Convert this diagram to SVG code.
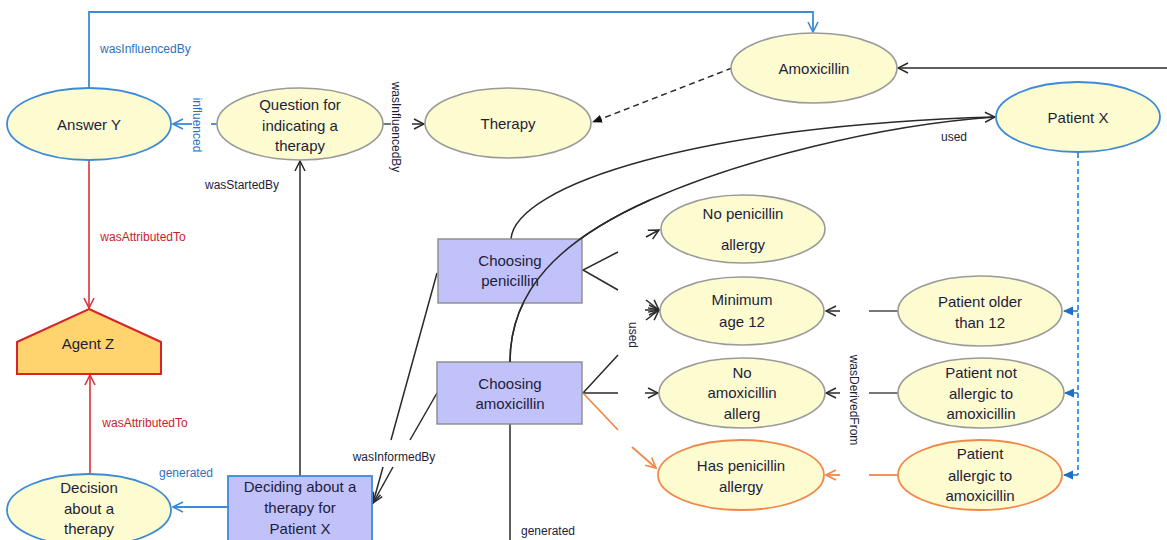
<svg xmlns="http://www.w3.org/2000/svg" width="1167" height="540" viewBox="0 0 1167 540">
  <style>
    text { font-family: "Liberation Sans", Arial, sans-serif; fill: #1d1d3b; }
    .node { font-size: 15px; text-anchor: middle; dominant-baseline: central; }
    .lbl { font-size: 12px; dominant-baseline: central; }
    .ent { fill: #fdfbd0; stroke: #9a9a9a; stroke-width: 1.6; }
    .ent-blue { fill: #fdfbd0; stroke: #3d8ad6; stroke-width: 1.8; }
    .ent-orange { fill: #fdfbd0; stroke: #f0884a; stroke-width: 1.8; }
    .act { fill: #c2c2fa; stroke: #8a8a8a; stroke-width: 1.4; }
    .act-blue { fill: #c2c2fa; stroke: #3d8ad6; stroke-width: 1.8; }
    .agent { fill: #ffd36e; stroke: #d8232a; stroke-width: 2; }
    .k { fill: none; stroke: #2a2a2a; stroke-width: 1.5; }
    .g { fill: none; stroke: #777; stroke-width: 2; }
    .b { fill: none; stroke: #3d8ad6; stroke-width: 1.8; }
    .r { fill: none; stroke: #d8323a; stroke-width: 1.6; }
    .o { fill: none; stroke: #f0884a; stroke-width: 1.8; }
    .blue-t { fill: #2a72c4; }
    .red-t { fill: #c81e2a; }
  </style>
  <defs>
    <marker id="open-k" viewBox="0 0 12 12" refX="11" refY="6" markerWidth="12" markerHeight="12" orient="auto" markerUnits="userSpaceOnUse">
      <path d="M1,1 L11,6 L1,11" fill="none" stroke="#2a2a2a" stroke-width="1.5"/>
    </marker>
    <marker id="open-b" viewBox="0 0 12 12" refX="11" refY="6" markerWidth="12" markerHeight="12" orient="auto" markerUnits="userSpaceOnUse">
      <path d="M1,1 L11,6 L1,11" fill="none" stroke="#3d8ad6" stroke-width="1.6"/>
    </marker>
    <marker id="open-r" viewBox="0 0 12 12" refX="11" refY="6" markerWidth="12" markerHeight="12" orient="auto" markerUnits="userSpaceOnUse">
      <path d="M1,1 L11,6 L1,11" fill="none" stroke="#d8323a" stroke-width="1.6"/>
    </marker>
    <marker id="open-o" viewBox="0 0 12 12" refX="11" refY="6" markerWidth="12" markerHeight="12" orient="auto" markerUnits="userSpaceOnUse">
      <path d="M1,1 L11,6 L1,11" fill="none" stroke="#f0884a" stroke-width="1.6"/>
    </marker>
    <marker id="solid-k" viewBox="0 0 10 10" refX="9" refY="5" markerWidth="10" markerHeight="10" orient="auto" markerUnits="userSpaceOnUse">
      <path d="M0,1 L10,5 L0,9 Z" fill="#111"/>
    </marker>
    <marker id="solid-b" viewBox="0 0 10 10" refX="9" refY="5" markerWidth="10" markerHeight="10" orient="auto" markerUnits="userSpaceOnUse">
      <path d="M0,0.5 L10,5 L0,9.5 Z" fill="#1f6fc5"/>
    </marker>
  </defs>

  <rect width="1167" height="540" fill="#ffffff"/>

  <!-- connectors -->
  <g id="connectors">
    <!-- Answer Y wasInfluencedBy Amoxicillin -->
    <path class="b" d="M89,88 V12 H813 V32" marker-end="url(#open-b)"/>
    <!-- Question influenced Answer Y -->
    <path class="b" d="M192,124 H173" marker-end="url(#open-b)"/>
    <path class="b" d="M211,124 H217"/>
    <!-- Question wasInfluencedBy Therapy -->
    <path class="g" d="M383,124 H391"/>
    <path class="k" d="M412,124 H424" marker-end="url(#open-k)"/>
    <!-- Amoxicillin to Therapy (dashed) -->
    <path class="k" d="M732,68 L593,122" stroke-dasharray="6,4" marker-end="url(#solid-k)"/>
    <!-- incoming to Amoxicillin from the right -->
    <path class="k" d="M1167,68 H898" marker-end="url(#open-k)"/>
    <!-- used: Choosing activities to Patient X -->
    <path class="k" d="M511,239 C515,185 700,125 995,117" marker-end="url(#open-k)"/>
    <path class="k" d="M510,362 C510,290 560,240 650,200 S880,125 995,117"/>
    <!-- wasAttributedTo -->
    <path class="r" d="M89,160 V308" marker-end="url(#open-r)"/>
    <path class="r" d="M90,474 V375" marker-end="url(#open-r)"/>
    <!-- generated: Deciding to Decision -->
    <path class="b" d="M228,507 H173" marker-end="url(#open-b)"/>
    <!-- wasStartedBy -->
    <path class="k" d="M300,476 V161" marker-end="url(#open-k)"/>
    <!-- wasInformedBy -->
    <path class="k" d="M437,273 L391,440"/>
    <path class="k" d="M437,393 L410,440"/>
    <path class="k" d="M383,467 L373,503" marker-end="url(#open-k)"/>
    <path class="k" d="M393,467 L373,503" marker-end="url(#open-k)"/>
    <!-- generated below Choosing amoxicillin -->
    <path class="k" d="M510,424 V540"/>
    <!-- used fan from Choosing penicillin -->
    <path class="k" d="M618,252 L583,270 L618,290"/>
    <!-- used fan from Choosing amoxicillin -->
    <path class="k" d="M618,355 L583,393 H618"/>
    <path class="o" d="M583,393 L618,430"/>
    <!-- arrow ends at the entities -->
    <path class="k" d="M646,237 L659,230" marker-end="url(#open-k)"/>
    <path class="k" d="M646,300 L659,310" marker-end="url(#open-k)"/>
    <path class="k" d="M645,310 H659" marker-end="url(#open-k)"/>
    <path class="k" d="M646,320 L659,310" marker-end="url(#open-k)"/>
    <path class="k" d="M645,393 H658" marker-end="url(#open-k)"/>
    <path class="o" d="M632,447 L656,468" marker-end="url(#open-o)"/>
    <!-- wasDerivedFrom -->
    <path class="g" d="M869,311 H898"/>
    <path class="k" d="M840,311 H826" marker-end="url(#open-k)"/>
    <path class="g" d="M869,393 H898"/>
    <path class="k" d="M840,393 H826" marker-end="url(#open-k)"/>
    <path class="o" d="M869,475 H898"/>
    <path class="o" d="M840,475 H826" marker-end="url(#open-o)"/>
    <!-- Patient X specializations (dashed blue) -->
    <path class="b" d="M1078,153 V475" stroke-dasharray="5,3"/>
    <path class="b" d="M1078,311 H1064" marker-end="url(#solid-b)"/>
    <path class="b" d="M1078,393 H1065" marker-end="url(#solid-b)"/>
    <path class="b" d="M1078,475 H1064" marker-end="url(#solid-b)"/>

    <!-- connector labels -->
    <text class="lbl blue-t" x="100" y="49">wasInfluencedBy</text>
    <text class="lbl blue-t" text-anchor="middle" transform="translate(197,125) rotate(90)">influenced</text>
    <text class="lbl" text-anchor="middle" transform="translate(396,127) rotate(90)">wasInfluencedBy</text>
    <text class="lbl" text-anchor="middle" x="242" y="185">wasStartedBy</text>
    <text class="lbl red-t" text-anchor="middle" x="143" y="237">wasAttributedTo</text>
    <text class="lbl red-t" text-anchor="middle" x="145" y="423">wasAttributedTo</text>
    <text class="lbl blue-t" text-anchor="middle" x="186" y="473">generated</text>
    <text class="lbl" text-anchor="middle" x="394" y="457">wasInformedBy</text>
    <text class="lbl" text-anchor="middle" x="954" y="137">used</text>
    <text class="lbl" text-anchor="middle" transform="translate(633,335) rotate(90)">used</text>
    <text class="lbl" text-anchor="middle" transform="translate(854,400) rotate(90)">wasDerivedFrom</text>
    <text class="lbl" x="521" y="531">generated</text>
  </g>

  <!-- nodes -->
  <g id="answer-y">
    <ellipse class="ent-blue" cx="89" cy="124" rx="82" ry="36"/>
    <text class="node" x="89" y="124">Answer Y</text>
  </g>
  <g id="question">
    <ellipse class="ent" cx="300" cy="124" rx="83" ry="36"/>
    <text class="node" x="300" y="104">Question for</text>
    <text class="node" x="300" y="125">indicating a</text>
    <text class="node" x="300" y="145">therapy</text>
  </g>
  <g id="therapy">
    <ellipse class="ent" cx="508" cy="123" rx="83" ry="35"/>
    <text class="node" x="508" y="123">Therapy</text>
  </g>
  <g id="amoxicillin">
    <ellipse class="ent" cx="814" cy="68" rx="83" ry="35"/>
    <text class="node" x="814" y="68">Amoxicillin</text>
  </g>
  <g id="patient-x">
    <ellipse class="ent-blue" cx="1078" cy="117" rx="82" ry="35"/>
    <text class="node" x="1078" y="117">Patient X</text>
  </g>
  <g id="agent-z">
    <polygon class="agent" points="89,309 161,342 161,374 17,374 17,342"/>
    <text class="node" x="88" y="343">Agent Z</text>
  </g>
  <g id="decision">
    <ellipse class="ent-blue" cx="89" cy="510" rx="82" ry="36"/>
    <text class="node" x="89" y="487">Decision</text>
    <text class="node" x="89" y="508">about a</text>
    <text class="node" x="89" y="528">therapy</text>
  </g>
  <g id="deciding">
    <rect class="act-blue" x="228" y="476" width="144" height="72"/>
    <text class="node" x="300" y="486">Deciding about a</text>
    <text class="node" x="300" y="507">therapy for</text>
    <text class="node" x="300" y="528">Patient X</text>
  </g>
  <g id="choosing-penicillin">
    <rect class="act" x="438" y="239" width="144" height="64"/>
    <text class="node" x="510" y="260">Choosing</text>
    <text class="node" x="510" y="280">penicillin</text>
  </g>
  <g id="choosing-amoxicillin">
    <rect class="act" x="437" y="362" width="145" height="62"/>
    <text class="node" x="510" y="383">Choosing</text>
    <text class="node" x="510" y="403">amoxicillin</text>
  </g>
  <!-- redraw curve segment crossing the penicillin box, as in the layout -->
  <g id="curve-over">
    <path class="k" d="M510,362 C510,290 560,240 650,200"/>
  </g>
  <g id="no-penicillin-allergy">
    <ellipse class="ent" cx="743" cy="229" rx="82" ry="34"/>
    <text class="node" x="743" y="213">No penicillin</text>
    <text class="node" x="743" y="244">allergy</text>
  </g>
  <g id="minimum-age">
    <ellipse class="ent" cx="742" cy="311" rx="82" ry="34"/>
    <text class="node" x="742" y="299">Minimum</text>
    <text class="node" x="742" y="321">age 12</text>
  </g>
  <g id="no-amoxicillin-allergy">
    <ellipse class="ent" cx="742" cy="393" rx="83" ry="35"/>
    <text class="node" x="742" y="372">No</text>
    <text class="node" x="742" y="392">amoxicillin</text>
    <text class="node" x="742" y="413">allerg</text>
  </g>
  <g id="has-penicillin-allergy">
    <ellipse class="ent-orange" cx="741" cy="475" rx="83" ry="35"/>
    <text class="node" x="741" y="465">Has penicillin</text>
    <text class="node" x="741" y="486">allergy</text>
  </g>
  <g id="patient-older">
    <ellipse class="ent" cx="980" cy="311" rx="82" ry="35"/>
    <text class="node" x="980" y="301">Patient older</text>
    <text class="node" x="980" y="322">than 12</text>
  </g>
  <g id="patient-not-allergic">
    <ellipse class="ent" cx="981" cy="393" rx="83" ry="35"/>
    <text class="node" x="981" y="372">Patient not</text>
    <text class="node" x="981" y="393">allergic to</text>
    <text class="node" x="981" y="413">amoxicillin</text>
  </g>
  <g id="patient-allergic">
    <ellipse class="ent-orange" cx="980" cy="475" rx="82" ry="35"/>
    <text class="node" x="980" y="453">Patient</text>
    <text class="node" x="980" y="475">allergic to</text>
    <text class="node" x="980" y="495">amoxicillin</text>
  </g>
</svg>
